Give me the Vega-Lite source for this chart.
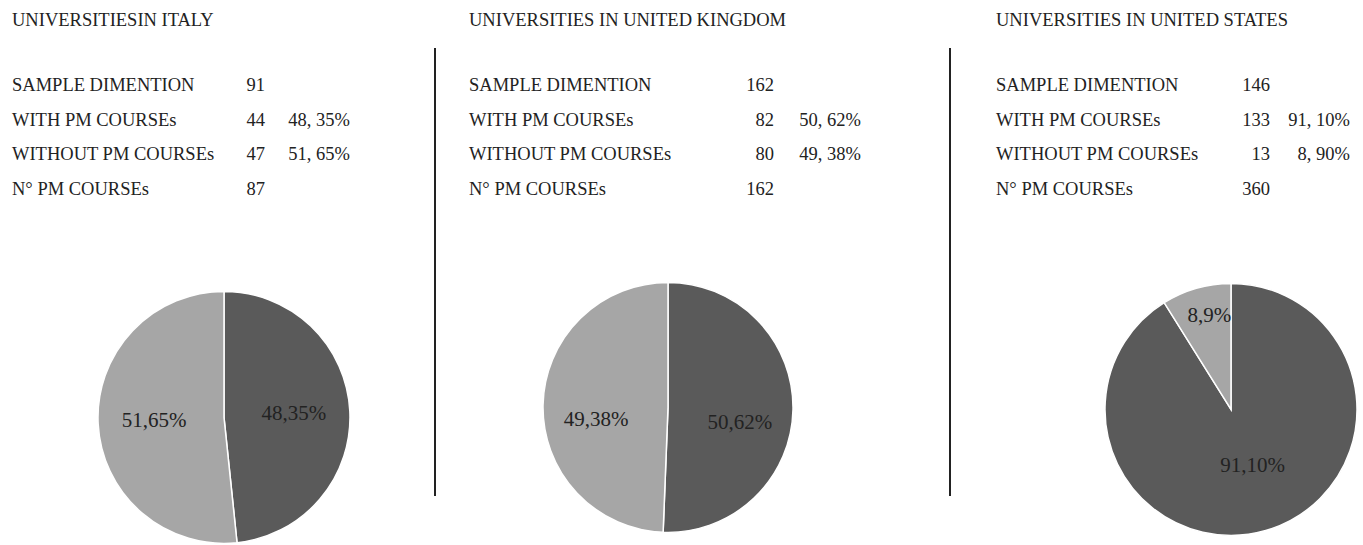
{
  "$schema": "https://vega.github.io/schema/vega-lite/v6.json",
  "background": "white",
  "padding": {"left": 0, "right": 0, "top": 9, "bottom": 0},
  "datasets": {
    "it_table": [
      {"item": "SAMPLE DIMENTION", "n": "91", "pct": ""},
      {"item": "WITH PM COURSEs", "n": "44", "pct": "48, 35%"},
      {"item": "WITHOUT PM COURSEs", "n": "47", "pct": "51, 65%"},
      {"item": "N° PM COURSEs", "n": "87", "pct": ""}
    ],
    "uk_table": [
      {"item": "SAMPLE DIMENTION", "n": "162", "pct": ""},
      {"item": "WITH PM COURSEs", "n": "82", "pct": "50, 62%"},
      {"item": "WITHOUT PM COURSEs", "n": "80", "pct": "49, 38%"},
      {"item": "N° PM COURSEs", "n": "162", "pct": ""}
    ],
    "us_table": [
      {"item": "SAMPLE DIMENTION", "n": "146", "pct": ""},
      {"item": "WITH PM COURSEs", "n": "133", "pct": "91, 10%"},
      {"item": "WITHOUT PM COURSEs", "n": "13", "pct": "8, 90%"},
      {"item": "N° PM COURSEs", "n": "360", "pct": ""}
    ],
    "it_pie": [
      {"group": "WITH PM COURSEs", "share": 48.35, "label": "48,35%"},
      {"group": "WITHOUT PM COURSEs", "share": 51.65, "label": "51,65%"}
    ],
    "uk_pie": [
      {"group": "WITH PM COURSEs", "share": 50.62, "label": "50,62%"},
      {"group": "WITHOUT PM COURSEs", "share": 49.38, "label": "49,38%"}
    ],
    "us_pie": [
      {"group": "WITH PM COURSEs", "share": 91.10, "label": "91,10%"},
      {"group": "WITHOUT PM COURSEs", "share": 8.90, "label": "8,9%"}
    ]
  },
  "config": {
    "view": {"stroke": null},
    "concat": {"spacing": 0},
    "text": {"font": "Liberation Serif", "fontSize": 18.5, "color": "#222222"}
  },
  "spacing": 0,
  "hconcat": [
    {
      "spacing": 81.4,
      "vconcat": [
        {
          "spacing": 36.6,
          "vconcat": [
            {
              "spacing": 0,
              "hconcat": [
                {"width": 12, "height": 1, "data": {"values": []}, "mark": "text"},
                {"width": 422, "height": 22, "data": {"values": [{"title": "UNIVERSITIESIN ITALY"}]}, "mark": {"type": "text", "align": "left"},
                 "encoding": {"x": {"value": 0}, "text": {"field": "title"}}}
              ]
            },
            {
              "spacing": 0,
              "hconcat": [
                {"width": 12, "height": 1, "data": {"values": []}, "mark": "text"},
                {"width": 215, "height": 139, "data": {"name": "it_table"}, "mark": {"type": "text", "align": "left"},
                 "encoding": {"y": {"field": "item", "type": "nominal", "sort": null, "axis": null, "scale": {"type": "point", "padding": 0.5}}, "x": {"value": 0}, "text": {"field": "item"}}},
                {"width": 38, "height": 139, "data": {"name": "it_table"}, "mark": {"type": "text", "align": "right"},
                 "encoding": {"y": {"field": "item", "type": "nominal", "sort": null, "axis": null, "scale": {"type": "point", "padding": 0.5}}, "x": {"value": "width"}, "text": {"field": "n"}}},
                {"width": 85, "height": 139, "data": {"name": "it_table"}, "mark": {"type": "text", "align": "right"},
                 "encoding": {"y": {"field": "item", "type": "nominal", "sort": null, "axis": null, "scale": {"type": "point", "padding": 0.5}}, "x": {"value": "width"}, "text": {"field": "pct"}}},
                {"width": 84, "height": 1, "data": {"values": []}, "mark": "text"}
              ]
            }
          ]
        },
        {
          "spacing": 0,
          "hconcat": [
            {"width": 95, "height": 1, "data": {"values": []}, "mark": "text"},
            {
              "width": 256, "height": 256,
              "data": {"name": "it_pie"},
              "encoding": {
                "theta": {"field": "share", "type": "quantitative", "stack": true},
                "color": {"field": "group", "type": "nominal", "legend": null, "scale": {"domain": ["WITH PM COURSEs", "WITHOUT PM COURSEs"], "range": ["#5a5a5a", "#a6a6a6"]}},
                "order": {"field": "group", "sort": "ascending"}
              },
              "layer": [
                {"mark": {"type": "arc", "outerRadius": 126, "stroke": "#ffffff", "strokeWidth": 1.5}},
                {"mark": {"type": "text", "radius": 70, "fontSize": 21, "font": "Liberation Serif"},
                 "encoding": {"text": {"field": "label"}, "color": {"value": "#222222"}, "detail": {"field": "group"}}}
              ]
            }
          ]
        }
      ]
    },
    {
      "spacing": 0,
      "vconcat": [
        {"width": 1, "height": 38, "data": {"values": []}, "mark": "text"},
        {"width": 1, "height": 448, "data": {"values": [{}]}, "mark": {"type": "rule", "color": "#222222", "strokeWidth": 2},
         "encoding": {"x": {"value": 0}, "y": {"value": 0}, "y2": {"value": "height"}}}
      ]
    },
    {
      "spacing": 72.4,
      "vconcat": [
        {
          "spacing": 36.6,
          "vconcat": [
            {
              "spacing": 0,
              "hconcat": [
                {"width": 33, "height": 1, "data": {"values": []}, "mark": "text"},
                {"width": 480, "height": 22, "data": {"values": [{"title": "UNIVERSITIES IN UNITED KINGDOM"}]}, "mark": {"type": "text", "align": "left"},
                 "encoding": {"x": {"value": 0}, "text": {"field": "title"}}}
              ]
            },
            {
              "spacing": 0,
              "hconcat": [
                {"width": 33, "height": 1, "data": {"values": []}, "mark": "text"},
                {"width": 262, "height": 139, "data": {"name": "uk_table"}, "mark": {"type": "text", "align": "left"},
                 "encoding": {"y": {"field": "item", "type": "nominal", "sort": null, "axis": null, "scale": {"type": "point", "padding": 0.5}}, "x": {"value": 0}, "text": {"field": "item"}}},
                {"width": 43, "height": 139, "data": {"name": "uk_table"}, "mark": {"type": "text", "align": "right"},
                 "encoding": {"y": {"field": "item", "type": "nominal", "sort": null, "axis": null, "scale": {"type": "point", "padding": 0.5}}, "x": {"value": "width"}, "text": {"field": "n"}}},
                {"width": 87, "height": 139, "data": {"name": "uk_table"}, "mark": {"type": "text", "align": "right"},
                 "encoding": {"y": {"field": "item", "type": "nominal", "sort": null, "axis": null, "scale": {"type": "point", "padding": 0.5}}, "x": {"value": "width"}, "text": {"field": "pct"}}},
                {"width": 88, "height": 1, "data": {"values": []}, "mark": "text"}
              ]
            }
          ]
        },
        {
          "spacing": 0,
          "hconcat": [
            {"width": 104, "height": 1, "data": {"values": []}, "mark": "text"},
            {
              "width": 256, "height": 256,
              "data": {"name": "uk_pie"},
              "encoding": {
                "theta": {"field": "share", "type": "quantitative", "stack": true},
                "color": {"field": "group", "type": "nominal", "legend": null, "scale": {"domain": ["WITH PM COURSEs", "WITHOUT PM COURSEs"], "range": ["#5a5a5a", "#a6a6a6"]}},
                "order": {"field": "group", "sort": "ascending"}
              },
              "layer": [
                {"mark": {"type": "arc", "outerRadius": 125, "stroke": "#ffffff", "strokeWidth": 1.5}},
                {"mark": {"type": "text", "radius": 72, "dy": 14, "fontSize": 21, "font": "Liberation Serif"},
                 "encoding": {"text": {"field": "label"}, "color": {"value": "#222222"}, "detail": {"field": "group"}}}
              ]
            }
          ]
        }
      ]
    },
    {
      "spacing": 0,
      "vconcat": [
        {"width": 1, "height": 38, "data": {"values": []}, "mark": "text"},
        {"width": 1, "height": 448, "data": {"values": [{}]}, "mark": {"type": "rule", "color": "#222222", "strokeWidth": 2},
         "encoding": {"x": {"value": 0}, "y": {"value": 0}, "y2": {"value": "height"}}}
      ]
    },
    {
      "spacing": 73.4,
      "vconcat": [
        {
          "spacing": 36.6,
          "vconcat": [
            {
              "spacing": 0,
              "hconcat": [
                {"width": 45, "height": 1, "data": {"values": []}, "mark": "text"},
                {"width": 369, "height": 22, "data": {"values": [{"title": "UNIVERSITIES IN UNITED STATES"}]}, "mark": {"type": "text", "align": "left"},
                 "encoding": {"x": {"value": 0}, "text": {"field": "title"}}}
              ]
            },
            {
              "spacing": 0,
              "hconcat": [
                {"width": 45, "height": 1, "data": {"values": []}, "mark": "text"},
                {"width": 234, "height": 139, "data": {"name": "us_table"}, "mark": {"type": "text", "align": "left"},
                 "encoding": {"y": {"field": "item", "type": "nominal", "sort": null, "axis": null, "scale": {"type": "point", "padding": 0.5}}, "x": {"value": 0}, "text": {"field": "item"}}},
                {"width": 40, "height": 139, "data": {"name": "us_table"}, "mark": {"type": "text", "align": "right"},
                 "encoding": {"y": {"field": "item", "type": "nominal", "sort": null, "axis": null, "scale": {"type": "point", "padding": 0.5}}, "x": {"value": "width"}, "text": {"field": "n"}}},
                {"width": 80, "height": 139, "data": {"name": "us_table"}, "mark": {"type": "text", "align": "right"},
                 "encoding": {"y": {"field": "item", "type": "nominal", "sort": null, "axis": null, "scale": {"type": "point", "padding": 0.5}}, "x": {"value": "width"}, "text": {"field": "pct"}}},
                {"width": 15, "height": 1, "data": {"values": []}, "mark": "text"}
              ]
            }
          ]
        },
        {
          "spacing": 0,
          "hconcat": [
            {"width": 151, "height": 1, "data": {"values": []}, "mark": "text"},
            {
              "width": 256, "height": 256,
              "data": {"name": "us_pie"},
              "encoding": {
                "theta": {"field": "share", "type": "quantitative", "stack": true},
                "color": {"field": "group", "type": "nominal", "legend": null, "scale": {"domain": ["WITH PM COURSEs", "WITHOUT PM COURSEs"], "range": ["#5a5a5a", "#a6a6a6"]}},
                "order": {"field": "group", "sort": "ascending"}
              },
              "layer": [
                {"mark": {"type": "arc", "outerRadius": 126, "stroke": "#ffffff", "strokeWidth": 1.5}},
                {"mark": {"type": "text", "radius": 78, "dy": -18, "fontSize": 21, "font": "Liberation Serif"},
                 "encoding": {"text": {"field": "label"}, "color": {"value": "#222222"}, "detail": {"field": "group"}}}
              ]
            }
          ]
        }
      ]
    }
  ]
}
